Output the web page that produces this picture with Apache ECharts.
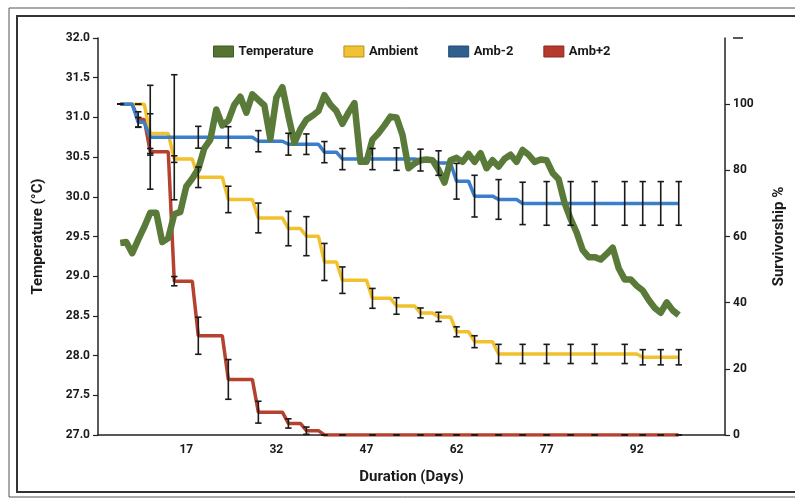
<!DOCTYPE html>
<html>
<head>
<meta charset="utf-8">
<script src="https://cdn.jsdelivr.net/npm/echarts@6/dist/echarts.min.js"></script>
<style>
html,body{margin:0;padding:0;background:#fff;}
#c{width:795px;height:500px;}
</style>
</head>
<body>
<div id="c"></div>
<script>
// ---- data ----
const xTickLabels = [17, 32, 47, 62, 77, 92];
const sampleDays = [6, 9, 11, 15, 19, 24, 29, 34, 37, 40, 43, 48, 52, 56, 59, 62, 65, 69, 73, 77, 81, 85, 90, 93, 96, 99];
const ambient    = [100, 100, 91.1, 83.4, 77.9, 71.2, 65.6, 62.4, 60.1, 52.3, 46.8, 41.3, 39.0, 36.9, 35.7, 31.2, 28.2, 24.5, 24.5, 24.5, 24.5, 24.5, 24.5, 23.5, 23.5, 23.5];
const ambientErr = [0, 0, 6.0, 1.0, 3.1, 4.0, 4.5, 5.2, 5.9, 5.6, 4.0, 3.0, 2.5, 1.5, 1.4, 1.5, 1.8, 2.9, 2.9, 2.9, 2.9, 2.9, 2.9, 2.3, 2.3, 2.3];
const ambMinus2    = [100, 94.5, 90, 90, 90, 90, 88.8, 87.9, 87.9, 85.5, 83.4, 83.4, 83.4, 83.1, 82.2, 76.7, 72.2, 71.2, 70, 70, 70, 70, 70, 70, 70, 70];
const ambMinus2Err = [0, 1.5, 15.7, 18.9, 3.3, 3.2, 3.2, 3.3, 3.1, 3.2, 3.2, 3.2, 3.4, 3.3, 3.7, 5.4, 6.3, 6.0, 6.4, 6.6, 6.6, 6.6, 6.6, 6.6, 6.6, 6.6];
const ambPlus2    = [100, 95.4, 85.6, 46.5, 30.0, 16.8, 6.9, 3.5, 1.3, 0, 0, 0, 0, 0, 0, 0, 0, 0, 0, 0, 0, 0, 0, 0, 0, 0];
const ambPlus2Err = [0, 2.3, 1.0, 1.4, 5.6, 6.0, 3.3, 1.4, 1.1, 0, 0, 0, 0, 0, 0, 0, 0, 0, 0, 0, 0, 0, 0, 0, 0, 0];
const tempFirstDay = 6;
const temperature = [
  29.42, 29.43, 29.29, 29.46, 29.62, 29.80, 29.80, 29.43, 29.48, 29.78, // 6-15
  29.81, 30.13, 30.23, 30.35, 30.61, 30.72, 31.10, 30.90, 30.96, 31.16, // 16-25
  31.26, 31.06, 31.29, 31.22, 31.15, 30.73, 31.25, 31.38, 31.02, 30.68, // 26-35
  30.85, 30.97, 31.02, 31.08, 31.28, 31.16, 31.08, 30.92, 31.06, 31.18, // 36-45
  30.44, 30.44, 30.72, 30.80, 30.90, 31.01, 31.00, 30.78, 30.36, 30.42, // 46-55
  30.46, 30.47, 30.46, 30.34, 30.18, 30.46, 30.49, 30.44, 30.54, 30.44, // 56-65
  30.55, 30.36, 30.46, 30.38, 30.48, 30.53, 30.44, 30.59, 30.53, 30.44, // 66-75
  30.47, 30.46, 30.30, 30.22, 29.92, 29.72, 29.55, 29.33, 29.24, 29.24, // 76-85
  29.21, 29.28, 29.36, 29.10, 28.96, 28.96, 28.88, 28.82, 28.70, 28.60, // 86-95
  28.54, 28.67, 28.57, 28.51                                            // 96-99
];

// ---- helpers ----
function stepLine(days, vals) {
  const out = [[days[0], vals[0]]];
  for (let i = 1; i < days.length; i++) {
    if (vals[i] !== vals[i - 1]) out.push([days[i] - 1, vals[i - 1]]);
    out.push([days[i], vals[i]]);
  }
  return out;
}
function errData(days, vals, errs) {
  return days.map((d, i) => [d, vals[i], errs[i]]);
}
const tempData = temperature.map((t, i) => [tempFirstDay + i, t]);

const FONT = 'Roboto, "Liberation Sans", sans-serif';
const AX = '#222';

function errSeries(name, data) {
  return {
    type: 'custom',
    name: name + ' err',
    yAxisIndex: 1,
    z: 10,
    silent: true,
    data: data,
    renderItem: function (params, api) {
      const x = api.value(0), y = api.value(1), e = api.value(2);
      const top = api.coord([x, y + e]);
      const bot = api.coord([x, y - e]);
      const w = 3.2;
      const st = {stroke: '#1a1a1a', lineWidth: 1.6};
      return {
        type: 'group',
        children: [
          {type: 'line', shape: {x1: top[0], y1: top[1], x2: bot[0], y2: bot[1]}, style: st},
          {type: 'line', shape: {x1: top[0] - w, y1: top[1], x2: top[0] + w, y2: top[1]}, style: st},
          {type: 'line', shape: {x1: bot[0] - w, y1: bot[1], x2: bot[0] + w, y2: bot[1]}, style: st}
        ]
      };
    }
  };
}

const chart = echarts.init(document.getElementById('c'), null, {renderer: 'canvas'});
chart.setOption({
  animation: false,
  backgroundColor: '#fff',
  textStyle: {fontFamily: FONT},
  graphic: [
    {type: 'rect', shape: {x: 9, y: 8, width: 800, height: 489}, style: {fill: 'none', stroke: '#555', lineWidth: 1}, z: -1},
    {type: 'rect', shape: {x: 17, y: 16, width: 800, height: 476}, style: {fill: 'none', stroke: '#333', lineWidth: 2}, z: -1},
    {type: 'line', shape: {x1: 733, y1: 38, x2: 743, y2: 38}, style: {stroke: AX, lineWidth: 1.5}, z: 5}
  ],
  legend: {
    left: 208, top: 40,
    itemWidth: 20, itemHeight: 11, itemGap: 30,
    textStyle: {fontFamily: FONT, fontWeight: 'bold', fontSize: 13, color: '#1a1a1a'},
    data: [
      {name: 'Temperature', icon: 'rect', itemStyle: {color: '#557433', borderColor: '#3f5a24', borderWidth: 1}},
      {name: 'Ambient', icon: 'rect', itemStyle: {color: '#F1C232', borderColor: '#b8901c', borderWidth: 1}},
      {name: 'Amb-2', icon: 'rect', itemStyle: {color: '#2E5F8F', borderColor: '#244b72', borderWidth: 1}},
      {name: 'Amb+2', icon: 'rect', itemStyle: {color: '#B33A2C', borderColor: '#8a2a1f', borderWidth: 1}}
    ]
  },
  grid: {left: 98, right: 57, top: 38, bottom: 65, containLabel: false},
  xAxis: {
    type: 'value', min: 2.3, max: 106.7,
    name: 'Duration (Days)', nameLocation: 'middle', nameGap: 35,
    nameTextStyle: {fontFamily: FONT, fontWeight: 'bold', fontSize: 15, color: '#1a1a1a'},
    axisLine: {show: true, lineStyle: {color: AX, width: 1.5}},
    axisTick: {show: false},
    splitLine: {show: false},
    axisLabel: {customValues: xTickLabels, fontFamily: FONT, fontWeight: 'bold', fontSize: 12, color: '#1a1a1a', margin: 9}
  },
  yAxis: [
    {
      type: 'value', min: 27, max: 32, interval: 0.5,
      name: 'Temperature (°C)', nameLocation: 'middle', nameGap: 52, nameRotate: 90,
      nameTextStyle: {fontFamily: FONT, fontWeight: 'bold', fontSize: 15, color: '#1a1a1a'},
      axisLine: {show: true, lineStyle: {color: AX, width: 1.5}},
      axisTick: {show: true, inside: false, length: 5, lineStyle: {color: AX, width: 1.2}},
      splitLine: {show: false},
      axisLabel: {formatter: v => v.toFixed(1), fontFamily: FONT, fontWeight: 'bold', fontSize: 12, color: '#1a1a1a', margin: 8}
    },
    {
      type: 'value', min: 0, max: 120, interval: 20, position: 'right',
      name: 'Survivorship %', nameLocation: 'middle', nameGap: 47, nameRotate: 90,
      nameTextStyle: {fontFamily: FONT, fontWeight: 'bold', fontSize: 15, color: '#1a1a1a'},
      axisLine: {show: true, lineStyle: {color: AX, width: 1.5}},
      axisTick: {show: true, inside: false, length: 5, lineStyle: {color: AX, width: 1.2}},
      splitLine: {show: false},
      axisLabel: {showMaxLabel: false, fontFamily: FONT, fontWeight: 'bold', fontSize: 12, color: '#1a1a1a', margin: 8}
    }
  ],
  series: [
    {name: 'Amb+2', type: 'line', yAxisIndex: 1, data: stepLine(sampleDays, ambPlus2), showSymbol: false, symbol: 'none', z: 2,
      lineStyle: {color: '#B5412F', width: 3.5}, itemStyle: {color: '#B33A2C'}},
    {name: 'Ambient', type: 'line', yAxisIndex: 1, data: stepLine(sampleDays, ambient), showSymbol: false, symbol: 'none', z: 3,
      lineStyle: {color: '#F2C12E', width: 3.5}, itemStyle: {color: '#F1C232'}},
    {name: 'Amb-2', type: 'line', yAxisIndex: 1, data: stepLine(sampleDays, ambMinus2), showSymbol: false, symbol: 'none', z: 4,
      lineStyle: {color: '#3A7FCB', width: 3.5}, itemStyle: {color: '#2E5F8F'}},
    {name: 'Temperature', type: 'line', yAxisIndex: 0, data: tempData, showSymbol: false, symbol: 'none', z: 5,
      lineStyle: {color: '#5A7A3A', width: 6.5, join: 'round'}, itemStyle: {color: '#557433'}},
    errSeries('Ambient', errData(sampleDays, ambient, ambientErr)),
    errSeries('Amb-2', errData(sampleDays, ambMinus2, ambMinus2Err)),
    errSeries('Amb+2', errData(sampleDays, ambPlus2, ambPlus2Err))
  ]
});
</script>
</body>
</html>
